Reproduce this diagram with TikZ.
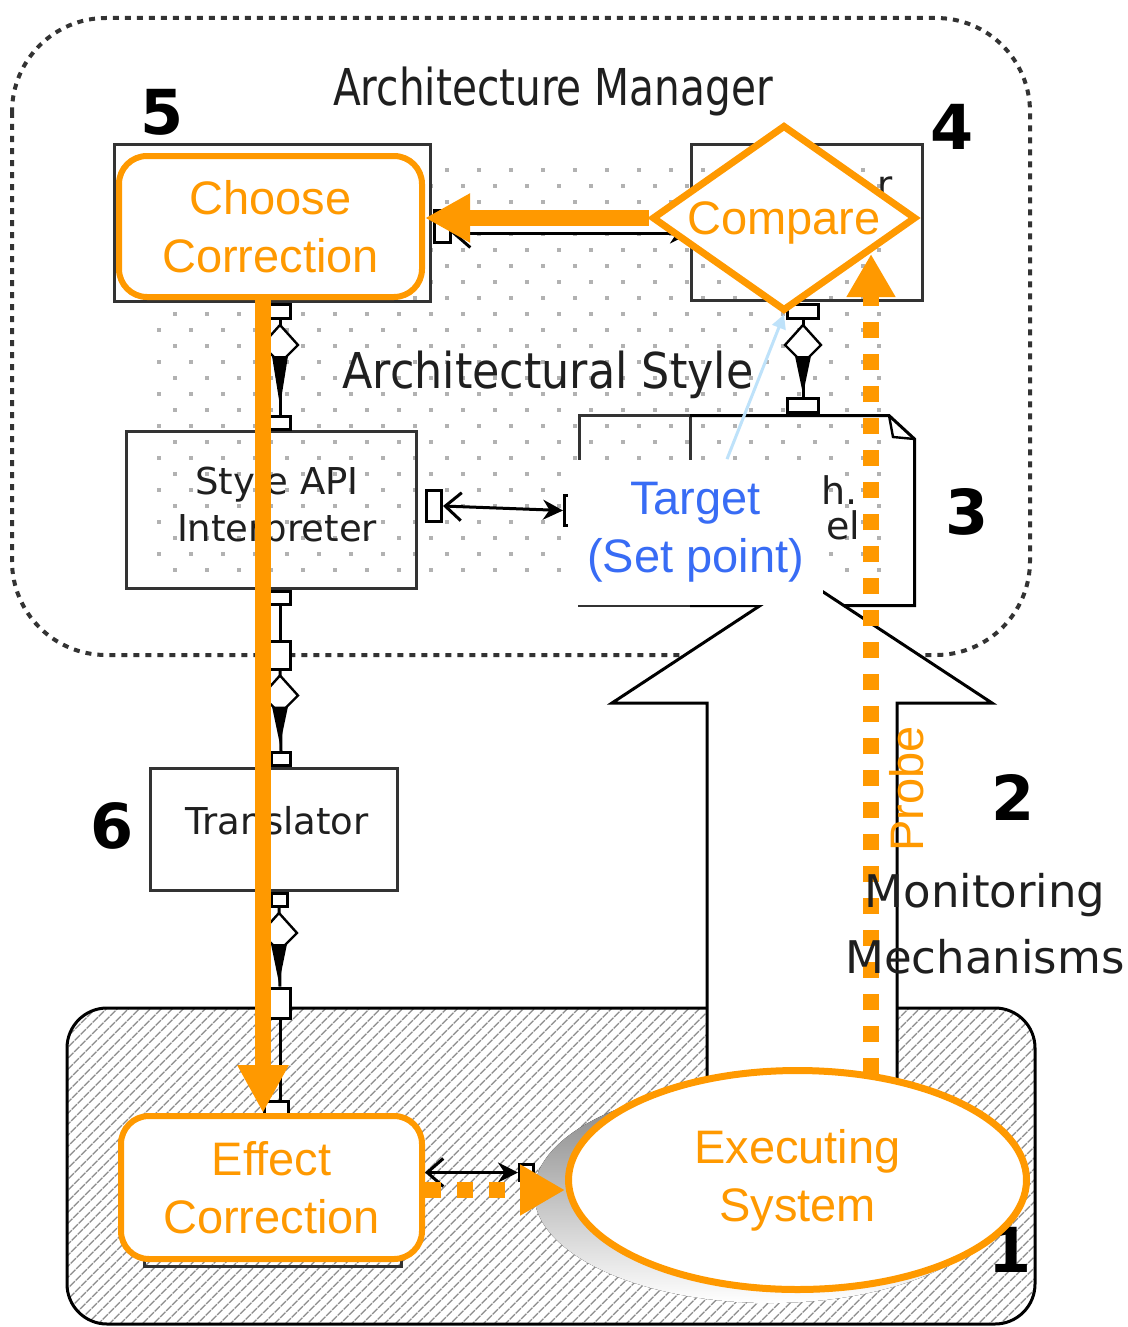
\documentclass[tikz,border=0pt]{standalone}
\usepackage{fontspec}
\usetikzlibrary{arrows.meta,shapes.geometric,patterns.meta}
\newfontfamily\arial{Liberation Sans}
\newfontfamily\verd{DejaVu Sans}
\newfontfamily\verdcond{DejaVu Sans}[FakeStretch=0.8]
\newfontfamily\verdnarrow{DejaVu Sans}[FakeStretch=0.9]
\definecolor{amber}{RGB}{255,153,0}
\definecolor{setblue}{RGB}{56,108,245}
\definecolor{skyline}{RGB}{190,226,250}
\definecolor{boxgray}{RGB}{51,51,51}
\definecolor{shade}{RGB}{192,192,192}
\begin{document}
\begin{tikzpicture}[x=0.5pt,y=-0.5pt,
  comp/.style={draw=boxgray,line width=1.5pt,inner sep=0pt},
  port/.style={draw=black,fill=white,line width=1.5pt,inner sep=0pt},
  tasklabel/.style={text=amber,font=\arial\fontsize{23.5}{29}\selectfont,align=center,inner sep=0pt},
  task/.style={tasklabel,draw=amber,fill=white,line width=3pt,rounded corners=14pt},
  lbl/.style={text=black!88,font=\verd\fontsize{18.5}{23.5}\selectfont,align=center,inner sep=0pt},
  num/.style={font=\verd\bfseries\fontsize{31}{31}\selectfont,inner sep=0pt},
  flow/.style={draw=amber,line width=8pt},
  dotflow/.style={draw=amber,line width=8pt,dash pattern=on 8pt off 8pt},
  link/.style={draw=black,line width=1.5pt,{Straight Barb[length=8pt,width=14pt]}-{Stealth[length=10pt,width=10pt]}},
  pics/ifacehead/.style={code={
     \draw[line width=1.2pt,fill=white] (0,5) -- (18,25) -- (0,43) -- (-18,25) -- cycle;
     \fill[black] (-8,36) -- (8,36) -- (0,#1) -- cycle;}}
]
\useasboundingbox (0,0) rectangle (1128,1327);
\fill[white] (0,0) rectangle (1128,1327);

% executing layer: hatched rounded box
\draw[line width=1.5pt,pattern={Lines[angle=45,distance=4pt,line width=0.7pt]},pattern color=black!45,rounded corners=20pt] (67,1008) rectangle (1035,1324);

% architecture manager frame
\draw[black!80,line width=2pt,dash pattern=on 3pt off 3pt,rounded corners=47pt] (12,18) rectangle (1030,655);
\node[font=\verdcond\fontsize{25.4}{30}\selectfont,text=black!88,anchor=base,inner sep=0pt] (title) at (553,105) {Architecture Manager};

% architectural style region (dotted fill)
\begin{scope}
  \clip (155,165) rectangle (882,582);
  \foreach \r [evaluate=\r as \o using {mod(\r,2)*16}] in {0,...,26}
    \foreach \c in {0,...,23}
      \fill[gray!60] (157+32*\c+\o,168+16*\r) rectangle ++(4,4);
\end{scope}
\node[font=\verdnarrow\fontsize{24.7}{30}\selectfont,text=black!88,anchor=base,inner sep=0pt] (stylettl) at (548,388) {Architectural Style};

% components
\node[comp,minimum width=158pt,minimum height=78.5pt] (box5) at (272.5,223) {};
\node[comp,minimum width=115.5pt,minimum height=78pt] (box4) at (807,222.5) {};
\node[lbl] (box4txt) at (885,187) {r};
\node[comp,minimum width=145pt,minimum height=78.5pt] (interp) at (271.5,510) {};
\node[lbl] (interptxt) at (277,508) {Style API\\Interpreter};
\node[comp,fill=white,minimum width=123.5pt,minimum height=61pt] (transl) at (274,829.5) {};
\node[lbl] (transltxt) at (277,821) {Translator};
\node[comp,minimum width=55.25pt,minimum height=95pt] (modelL) at (634.75,510.5) {};
\draw[black,line width=1.5pt] (690,415.5) -- (889,415.5) -- (914.5,439) -- (914.5,605.5) -- (690,605.5);
\draw[black,line width=1.2pt] (889,415.5) -- (893,437) -- (914.5,439);
\node[lbl,font=\verd\fontsize{19}{17.5}\selectfont,align=left,anchor=west] (modeltxt) at (821,508) {h.\\\hspace*{2.5pt}el};
\node[comp,minimum width=128.5pt,minimum height=63pt] (effbox) at (272.5,1203) {};

% ports
\node[port,minimum width=10.5pt,minimum height=7pt] (p5b) at (280,311.5) {};
\node[port,minimum width=10.5pt,minimum height=6.5pt] (pIt) at (280,423) {};
\node[port,minimum width=10.5pt,minimum height=6.5pt] (pIb) at (280,598) {};
\node[port,minimum width=10.5pt,minimum height=14pt] (pBa) at (280,655) {};
\node[port,minimum width=9.5pt,minimum height=6.5pt] (pTt) at (281,759) {};
\node[port,minimum width=8pt,minimum height=6.5pt] (pTb) at (279,900) {};
\node[port,minimum width=10.5pt,minimum height=15pt] (pSa) at (280,1003) {};
\node[port,minimum width=12pt,minimum height=6.5pt] (pEt) at (276,1108) {};
\node[port,minimum width=8pt,minimum height=16pt] (p5r) at (442.5,226.5) {};
\node[port,minimum width=15.5pt,minimum height=7pt] (p4b) at (803,311.5) {};
\node[port,minimum width=15.5pt,minimum height=7pt] (pMt) at (803,405.5) {};
\node[port,minimum width=7.5pt,minimum height=15.5pt] (pIr) at (434,506) {};
\node[port,minimum width=7pt,minimum height=15pt] (pMl) at (571.5,510.5) {};
\node[port,minimum width=7pt,minimum height=8pt] (pEr) at (526.5,1172.5) {};

% connectors between components
\draw[line width=1.5pt] (p5b.south) -- (pIt.north);
\path (p5b.south) pic {ifacehead=86};
\draw[line width=1.5pt] (p4b.south) -- (pMt.north);
\path (p4b.south) pic {ifacehead=74};
\draw[line width=1.5pt] (pIb.south) -- (pBa.north);
\draw[line width=1.5pt] (pBa.south) -- (pTt.north);
\path (pBa.south) pic {ifacehead=74};
\draw[line width=1.5pt] (pTb.south) -- (pSa.north);
\path (pTb.south) pic {ifacehead=75};
\draw[line width=1.5pt] (pSa.south) -- (pSa.south |- pEt.north);
\draw[link] (pIr.east) -- (pMl.west);
\draw[link] ([yshift=-3.5pt]p5r.east) -- ([yshift=-3.5pt]p5r.east -| box4.west);

% monitoring mechanisms: hollow up arrow
\fill[white] (707,1100) -- (707,703) -- (612,703) -- (802,578) -- (992,703) -- (897,703) -- (897,1100) -- cycle;
\draw[black,line width=1.5pt,line join=miter] (707,1100) -- (707,703) -- (612,703) -- (802,578) -- (992,703) -- (897,703) -- (897,1100);

% set point
\node[fill=white,inner sep=0pt,minimum width=127.5pt,minimum height=72.5pt,text=setblue,font=\arial\fontsize{23.5}{29}\selectfont,align=center] (tgt) at (695.5,532) {Target\\(Set point)};

% control loop nodes
\node[task,minimum width=151.5pt,minimum height=70.5pt] (choose) at (270.5,226.5) {Choose\\Correction};
\node[diamond,aspect=1.41,tasklabel,text depth=0pt,draw=amber,fill=white,line width=3.5pt,minimum width=132pt,minimum height=93pt] (cmp) at (784,218) {Compare};
\node[task,minimum width=150.5pt,minimum height=71.5pt] (eff) at (271.5,1187.5) {Effect\\Correction};
\draw[link] (eff.east |- pEr) -- (pEr.west);

\draw[skyline,line width=1.5pt,-{Triangle[length=7pt,width=7pt]}] ([xshift=15.75pt]tgt.north) -- (cmp.south);

\node[num] (n1) at (1010,1250) {1};
\coordinate (probex) at (871,0);
\coordinate (probetip) at (871,254);
\draw[dotflow,-{Triangle[length=21.5pt,width=23pt]}] (probex |- 0,1074) -- (probetip);

\fill[shade] (770,1193) ellipse [x radius=236,y radius=110];
\node[ellipse,tasklabel,draw=amber,fill=white,line width=3.5pt,minimum width=229pt,minimum height=109.5pt] (sys) at (797.5,1180) {Executing\\System};

\draw[flow,-{Triangle[length=22.5pt,width=23pt]}] (cmp.west) -- (cmp.west -| choose.east);
\coordinate (vx) at (263,0);
\draw[flow,-{Triangle[length=24pt,width=24pt]}] (choose.south -| vx) -- (eff.north -| vx);
\draw[dotflow,-{Triangle[length=22.5pt,width=24pt]}] ([yshift=-1.25pt]eff.east) -- ([yshift=-1.25pt]eff.east -| sys.west);

% labels
\node[tasklabel,rotate=90] (probetxt) at (907,789) {Probe};
\node[lbl,font=\verd\fontsize{22.5}{33}\selectfont] (montxt) at (985,924) {Monitoring\\Mechanisms};
\node[num] (n5) at (162,112) {5};
\node[num] (n4) at (952,127) {4};
\node[num] (n3) at (967,512) {3};
\node[num] (n2) at (1013,797) {2};
\node[num] (n6) at (112,826) {6};
\end{tikzpicture}
\end{document}
